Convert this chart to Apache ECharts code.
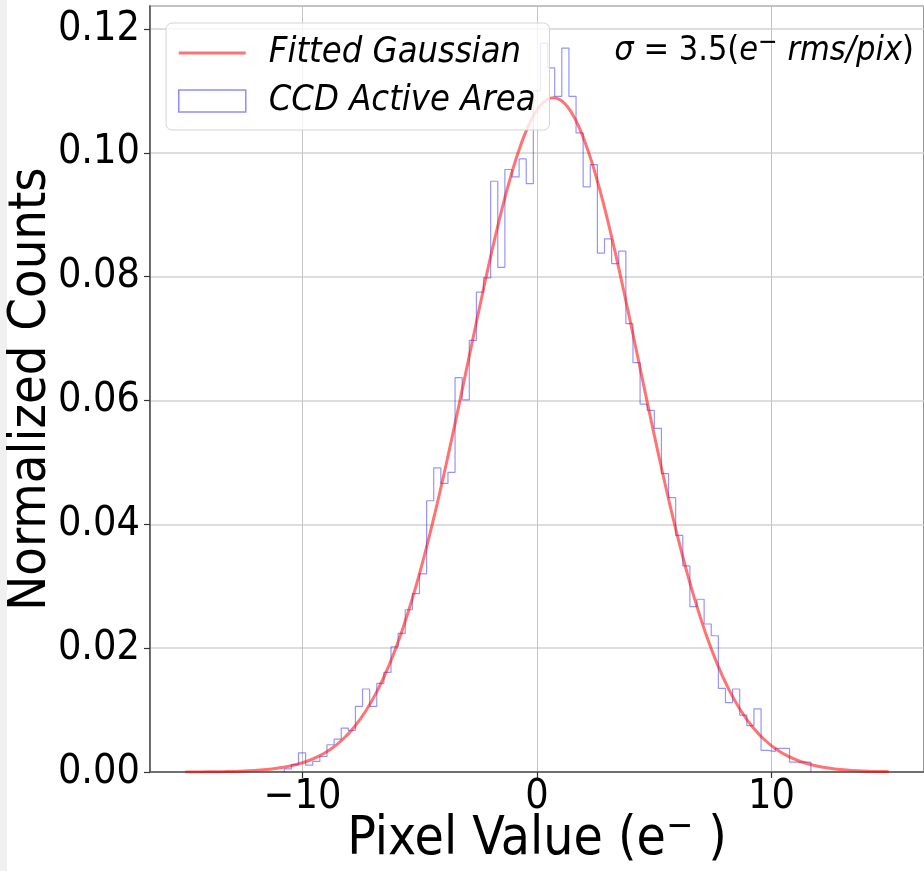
<!DOCTYPE html>
<html>
<head>
<meta charset="utf-8">
<script src="https://cdn.jsdelivr.net/npm/echarts@6/dist/echarts.min.js"></script>
<style>
html,body{margin:0;padding:0;background:#ffffff;}
#chart{width:924px;height:871px;}
</style>
</head>
<body>
<div id="chart"></div>
<script>
// ---- data ----
const binStart = -10.775;      // left edge of first histogram bin
const binWidth = 0.3034;       // histogram bin width
const histHeights = [
  0.0005, 0.0012, 0.0031, 0.0011, 0.0017, 0.0025, 0.0044, 0.0053, 0.0071, 0.0067,
  0.0106, 0.0134, 0.0106, 0.0143, 0.0161, 0.0202, 0.0224, 0.0262, 0.0288, 0.0320,
  0.0438, 0.0491, 0.0466, 0.0484, 0.0637, 0.0601, 0.0697, 0.0775, 0.0798, 0.0954,
  0.0815, 0.0973, 0.0961, 0.0990, 0.0950, 0.1100, 0.1177, 0.1137, 0.1091, 0.1169,
  0.1091, 0.1032, 0.0945, 0.0981, 0.0838, 0.0861, 0.0821, 0.0841, 0.0724, 0.0661,
  0.0594, 0.0584, 0.0555, 0.0482, 0.0443, 0.0382, 0.0333, 0.0267, 0.0279, 0.0239,
  0.0220, 0.0135, 0.0112, 0.0134, 0.0092, 0.0075, 0.0102, 0.0035, 0.0033, 0.0038,
  0.0038, 0.0016, 0.0016, 0.0016
];
// fitted curve (peak near x = 0.7)
const gaussX = [
  -15, -14.8, -14.3, -13.8, -13.3, -12.8, -12.3, -11.8, -11.3, -10.8, -10.3, -9.8, -9.3, -8.8, -8.3, -7.8,
  -7.3, -6.8, -6.3, -5.8, -5.3, -4.8, -4.3, -3.8, -3.3, -2.8, -2.3, -1.8, -1.3, -0.8, -0.3, 0.2,
  0.7, 1.2, 1.7, 2.2, 2.7, 3.2, 3.7, 4.2, 4.7, 5.2, 5.7, 6.2, 6.7, 7.2, 7.7, 8.2,
  8.7, 9.2, 9.7, 10.2, 10.7, 11.2, 11.7, 12.2, 12.7, 13.2, 13.7, 14.2, 14.7, 15
];
const gaussY = [
  0.00001, 0.00001, 0.00002, 0.00004, 0.00007, 0.00012, 0.00019, 0.00031, 0.00049, 0.00076, 0.00116, 0.00174, 0.00255, 0.00368, 0.00521, 0.00723,
  0.00986, 0.01319, 0.01731, 0.0223, 0.0282, 0.03499, 0.04261, 0.05093, 0.05973, 0.06876, 0.07768, 0.08613, 0.09372, 0.10008, 0.10489, 0.10788,
  0.1089, 0.10788, 0.10489, 0.10008, 0.09372, 0.08613, 0.07768, 0.06876, 0.05973, 0.05093, 0.04261, 0.03499, 0.0282, 0.0223, 0.01731, 0.01319,
  0.00986, 0.00723, 0.00521, 0.00368, 0.00255, 0.00174, 0.00116, 0.00076, 0.00049, 0.00031, 0.00019, 0.00012, 0.00007, 0.00005
];
const xTickValues = [-10, 0, 10];
const yTickLabels = ['0.00', '0.02', '0.04', '0.06', '0.08', '0.10', '0.12'];
const legendNames = ['Fitted Gaussian', 'CCD Active Area'];
const sigmaText = '3.5';

// ---- build series data ----
const histLine = [[binStart, 0]];
for (let i = 0; i < histHeights.length; i++) {
  histLine.push([binStart + i * binWidth, histHeights[i]]);
}
histLine.push([binStart + histHeights.length * binWidth, 0]);
const gaussLine = gaussX.map((x, i) => [x, gaussY[i]]);

const FONT = "'DejaVu Sans Condensed', 'DejaVu Sans', sans-serif";
const RED = 'rgba(255,0,0,0.55)';
const BLUE = 'rgba(0,0,255,0.42)';
const chart = echarts.init(document.getElementById('chart'), null, {renderer: 'canvas'});

chart.setOption({
  animation: false,
  backgroundColor: '#ffffff',
  textStyle: {fontFamily: FONT},
  graphic: [{
    type: 'rect', left: 0, top: 0, z: -10,
    shape: {width: 7, height: 871},
    style: {fill: '#f0f0f0'}
  }],
  grid: {
    left: 150, right: 0, top: 6, bottom: 99,
    containLabel: false, outerBoundsMode: 'none',
    show: true, borderColor: '#707070', borderWidth: 1.5, backgroundColor: 'transparent'
  },
  title: {
    right: 5, top: 25,
    text: '{it|σ}{n| = ' + sigmaText + '(}{it|e}{sup|−}{it| rms/pix}{n|)}',
    textStyle: {
      fontWeight: 'normal',
      rich: {
        it: {fontFamily: FONT, fontStyle: 'italic', fontWeight: 'normal', fontSize: 34, color: '#000', lineHeight: 42},
        n: {fontFamily: FONT, fontWeight: 'normal', fontSize: 34, color: '#000', lineHeight: 42},
        sup: {fontFamily: FONT, fontWeight: 'normal', fontSize: 26, color: '#000', lineHeight: 24, verticalAlign: 'top'}
      }
    }
  },
  legend: {
    orient: 'vertical',
    left: 166, top: 23,
    backgroundColor: 'rgba(255,255,255,0.8)',
    borderColor: '#d4d4d4', borderWidth: 1, borderRadius: 6,
    padding: [12, 14, 11, 12],
    itemWidth: 67, itemHeight: 22, itemGap: 12,
    textStyle: {fontFamily: FONT, fontStyle: 'italic', fontSize: 36, color: '#000', lineHeight: 36, padding: [0, 0, 0, 18]},
    data: [
      {name: legendNames[0], icon: 'path://M0,0L67,0L67,3L0,3Z',
       itemStyle: {color: RED, borderWidth: 0}},
      {name: legendNames[1], icon: 'rect',
       itemStyle: {color: 'rgba(0,0,0,0)', borderColor: 'rgba(0,0,255,0.45)', borderWidth: 1.5}}
    ]
  },
  xAxis: {
    type: 'value', min: -16.5, max: 16.5, splitNumber: 3,
    name: '{n|Pixel Value (e}{sup|−}{n| )}',
    nameLocation: 'middle', nameGap: 38, nameMoveOverlap: false,
    nameTextStyle: {
      rich: {
        n: {fontFamily: FONT, fontSize: 53, color: '#000', lineHeight: 60},
        sup: {fontFamily: FONT, fontSize: 36, color: '#000', lineHeight: 34, verticalAlign: 'top'}
      }
    },
    axisLine: {show: true, onZero: false, lineStyle: {color: '#555', width: 1.5}},
    axisTick: {show: true, inside: false, length: 6, lineStyle: {color: '#333', width: 1.2}},
    axisLabel: {
      fontFamily: FONT, fontSize: 41, color: '#000', margin: 5,
      showMinLabel: false, showMaxLabel: false,
      formatter: v => (xTickValues.indexOf(Math.round(v * 1000) / 1000) >= 0 ? String(v).replace('-', '−') : '')
    },
    splitLine: {show: true, lineStyle: {color: '#c4c4c4', width: 1}}
  },
  yAxis: {
    type: 'value', min: 0, max: 0.1237, interval: 0.02,
    name: 'Normalized Counts',
    nameLocation: 'middle', nameGap: 93, nameMoveOverlap: false,
    nameTextStyle: {fontFamily: FONT, fontSize: 52, color: '#000'},
    axisLine: {show: true, onZero: false, lineStyle: {color: '#555', width: 1.5}},
    axisTick: {show: true, inside: false, length: 6, lineStyle: {color: '#333', width: 1.2}},
    axisLabel: {
      fontFamily: FONT, fontSize: 41, color: '#000', margin: 10,
      showMaxLabel: false,
      formatter: v => {
        const k = Math.round(v / 0.02);
        return (Math.abs(v - k * 0.02) < 1e-9 && k < yTickLabels.length) ? yTickLabels[k] : '';
      }
    },
    splitLine: {show: true, lineStyle: {color: '#d2d2d2', width: 1.5}}
  },
  series: [
    {
      name: legendNames[0], type: 'line', data: gaussLine,
      smooth: 0.4, symbol: 'none', z: 3,
      lineStyle: {color: RED, width: 3},
      itemStyle: {color: RED}
    },
    {
      name: legendNames[1], type: 'line', data: histLine,
      step: 'end', symbol: 'none', z: 2,
      lineStyle: {color: BLUE, width: 1.2},
      itemStyle: {color: BLUE}
    }
  ]
});
</script>
</body>
</html>
